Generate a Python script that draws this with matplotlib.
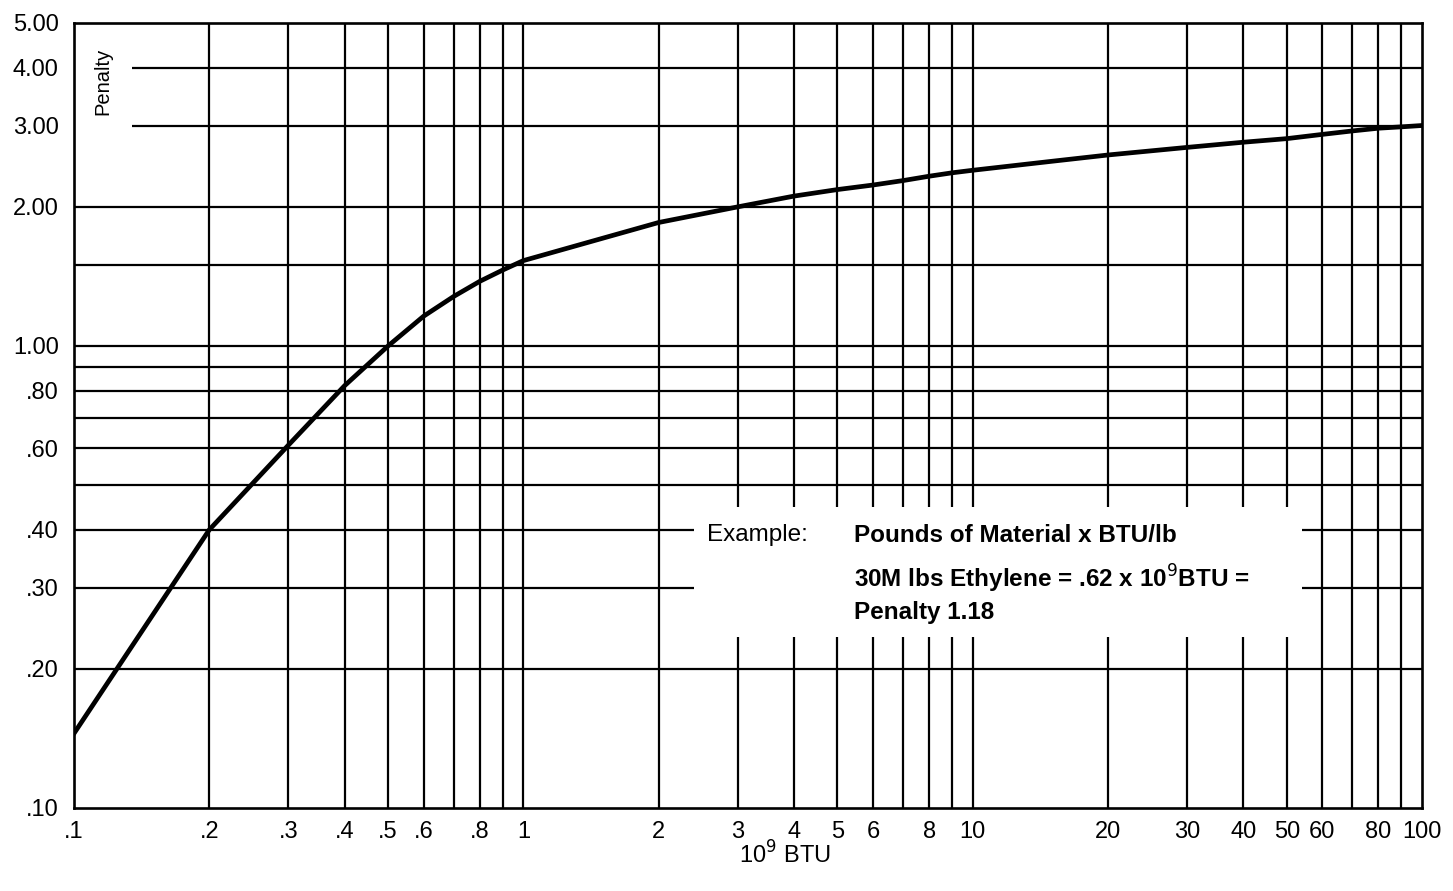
import matplotlib
matplotlib.use("Agg")
import matplotlib.pyplot as plt
from matplotlib.ticker import FixedLocator, FixedFormatter, NullLocator
from matplotlib.patches import Rectangle

# ---- data ----
btu = [0.1, 0.2, 0.3, 0.4, 0.5, 0.6, 0.7, 0.8, 0.9, 1, 1.5, 2, 3, 4, 5, 6, 7, 8,
       9, 10, 15, 20, 30, 40, 50, 60, 70, 80, 90, 100]
penalty = [0.145, 0.40, 0.61, 0.82, 1.0, 1.16, 1.28, 1.38, 1.46, 1.53, 1.71, 1.85,
           2.0, 2.11, 2.18, 2.23, 2.28, 2.33, 2.37, 2.40, 2.51, 2.59, 2.69, 2.76,
           2.81, 2.87, 2.92, 2.96, 2.98, 3.0]

x_ticks = [0.1, 0.2, 0.3, 0.4, 0.5, 0.6, 0.8, 1, 2, 3, 4, 5, 6, 8, 10,
           20, 30, 40, 50, 60, 80, 100]
x_tick_labels = [".1", ".2", ".3", ".4", ".5", ".6", ".8", "1", "2", "3", "4",
                 "5", "6", "8", "10", "20", "30", "40", "50", "60", "80", "100"]
y_ticks = [5, 4, 3, 2, 1, 0.8, 0.6, 0.4, 0.3, 0.2, 0.1]
y_tick_labels = ["5.00", "4.00", "3.00", "2.00", "1.00", ".80", ".60", ".40",
                 ".30", ".20", ".10"]

x_grid = [m * d for d in (0.1, 1, 10) for m in range(2, 10)] + [1, 10]
y_grid = [0.2, 0.3, 0.4, 0.5, 0.6, 0.7, 0.8, 0.9, 1.0, 1.5, 2, 3, 4]

example_lines = ["Pounds of Material x BTU/lb",
                 "30M lbs Ethylene = .62 x 10$^9$BTU =",
                 "Penalty 1.18"]

plt.rcParams['font.family'] = ['Liberation Sans', 'DejaVu Sans']

fig = plt.figure(figsize=(14.53, 8.91), dpi=100)
ax = fig.add_axes([74 / 1453, 1 - 808 / 891, (1422 - 74) / 1453, (808 - 23) / 891])
ax.set_xscale('log')
ax.set_yscale('log')
ax.set_xlim(0.1, 100)
ax.set_ylim(0.1, 5)

# grid
ax.vlines(x_grid, 0.1, 5, colors='black', linewidth=1.6, zorder=1)
ax.hlines(y_grid, 0.1, 100, colors='black', linewidth=1.6, zorder=1)

# white areas (label + example box)
ax.add_patch(Rectangle((2.4, 0.234), 54 - 2.4, 0.449 - 0.234,
                       facecolor='white', edgecolor='none', zorder=1.5))
ax.add_patch(Rectangle((0.1, 2.5), 0.1346 - 0.1, 4.5 - 2.5,
                       facecolor='white', edgecolor='none', zorder=1.5))

# curve
ax.plot(btu, penalty, color='black', linewidth=3.4, zorder=3,
        solid_joinstyle='round')

# ticks
ax.xaxis.set_major_locator(FixedLocator(x_ticks))
ax.xaxis.set_major_formatter(FixedFormatter(x_tick_labels))
ax.xaxis.set_minor_locator(NullLocator())
ax.yaxis.set_major_locator(FixedLocator(y_ticks))
ax.yaxis.set_major_formatter(FixedFormatter(y_tick_labels))
ax.yaxis.set_minor_locator(NullLocator())
ax.tick_params(axis='both', length=0, labelsize=17, colors='black')
ax.tick_params(axis='x', pad=9)
ax.tick_params(axis='y', pad=11)

for s in ax.spines.values():
    s.set_linewidth(1.9)
    s.set_color('black')
    s.set_zorder(4)

# texts
ax.text(0.116, 3.73, "Penalty", rotation=90, ha='center', va='center',
        fontsize=14.5, zorder=5)
ax.text(2.56, 0.389, "Example:", ha='left', va='center', fontsize=17.5, zorder=5)
ax.text(5.43, 0.389, example_lines[0], ha='left', va='center', fontsize=17.5,
        fontweight='bold', zorder=5)
ax.text(5.43, 0.313, example_lines[1], ha='left', va='center', fontsize=17.5,
        fontweight='bold', zorder=5)
ax.text(5.43, 0.265, example_lines[2], ha='left', va='center', fontsize=17.5,
        fontweight='bold', zorder=5)

fig.text(785 / 1453, 1 - 855 / 891, "10$^9$ BTU", ha='center', va='center',
         fontsize=17)

fig.savefig("out.png", dpi=100, facecolor='white')
